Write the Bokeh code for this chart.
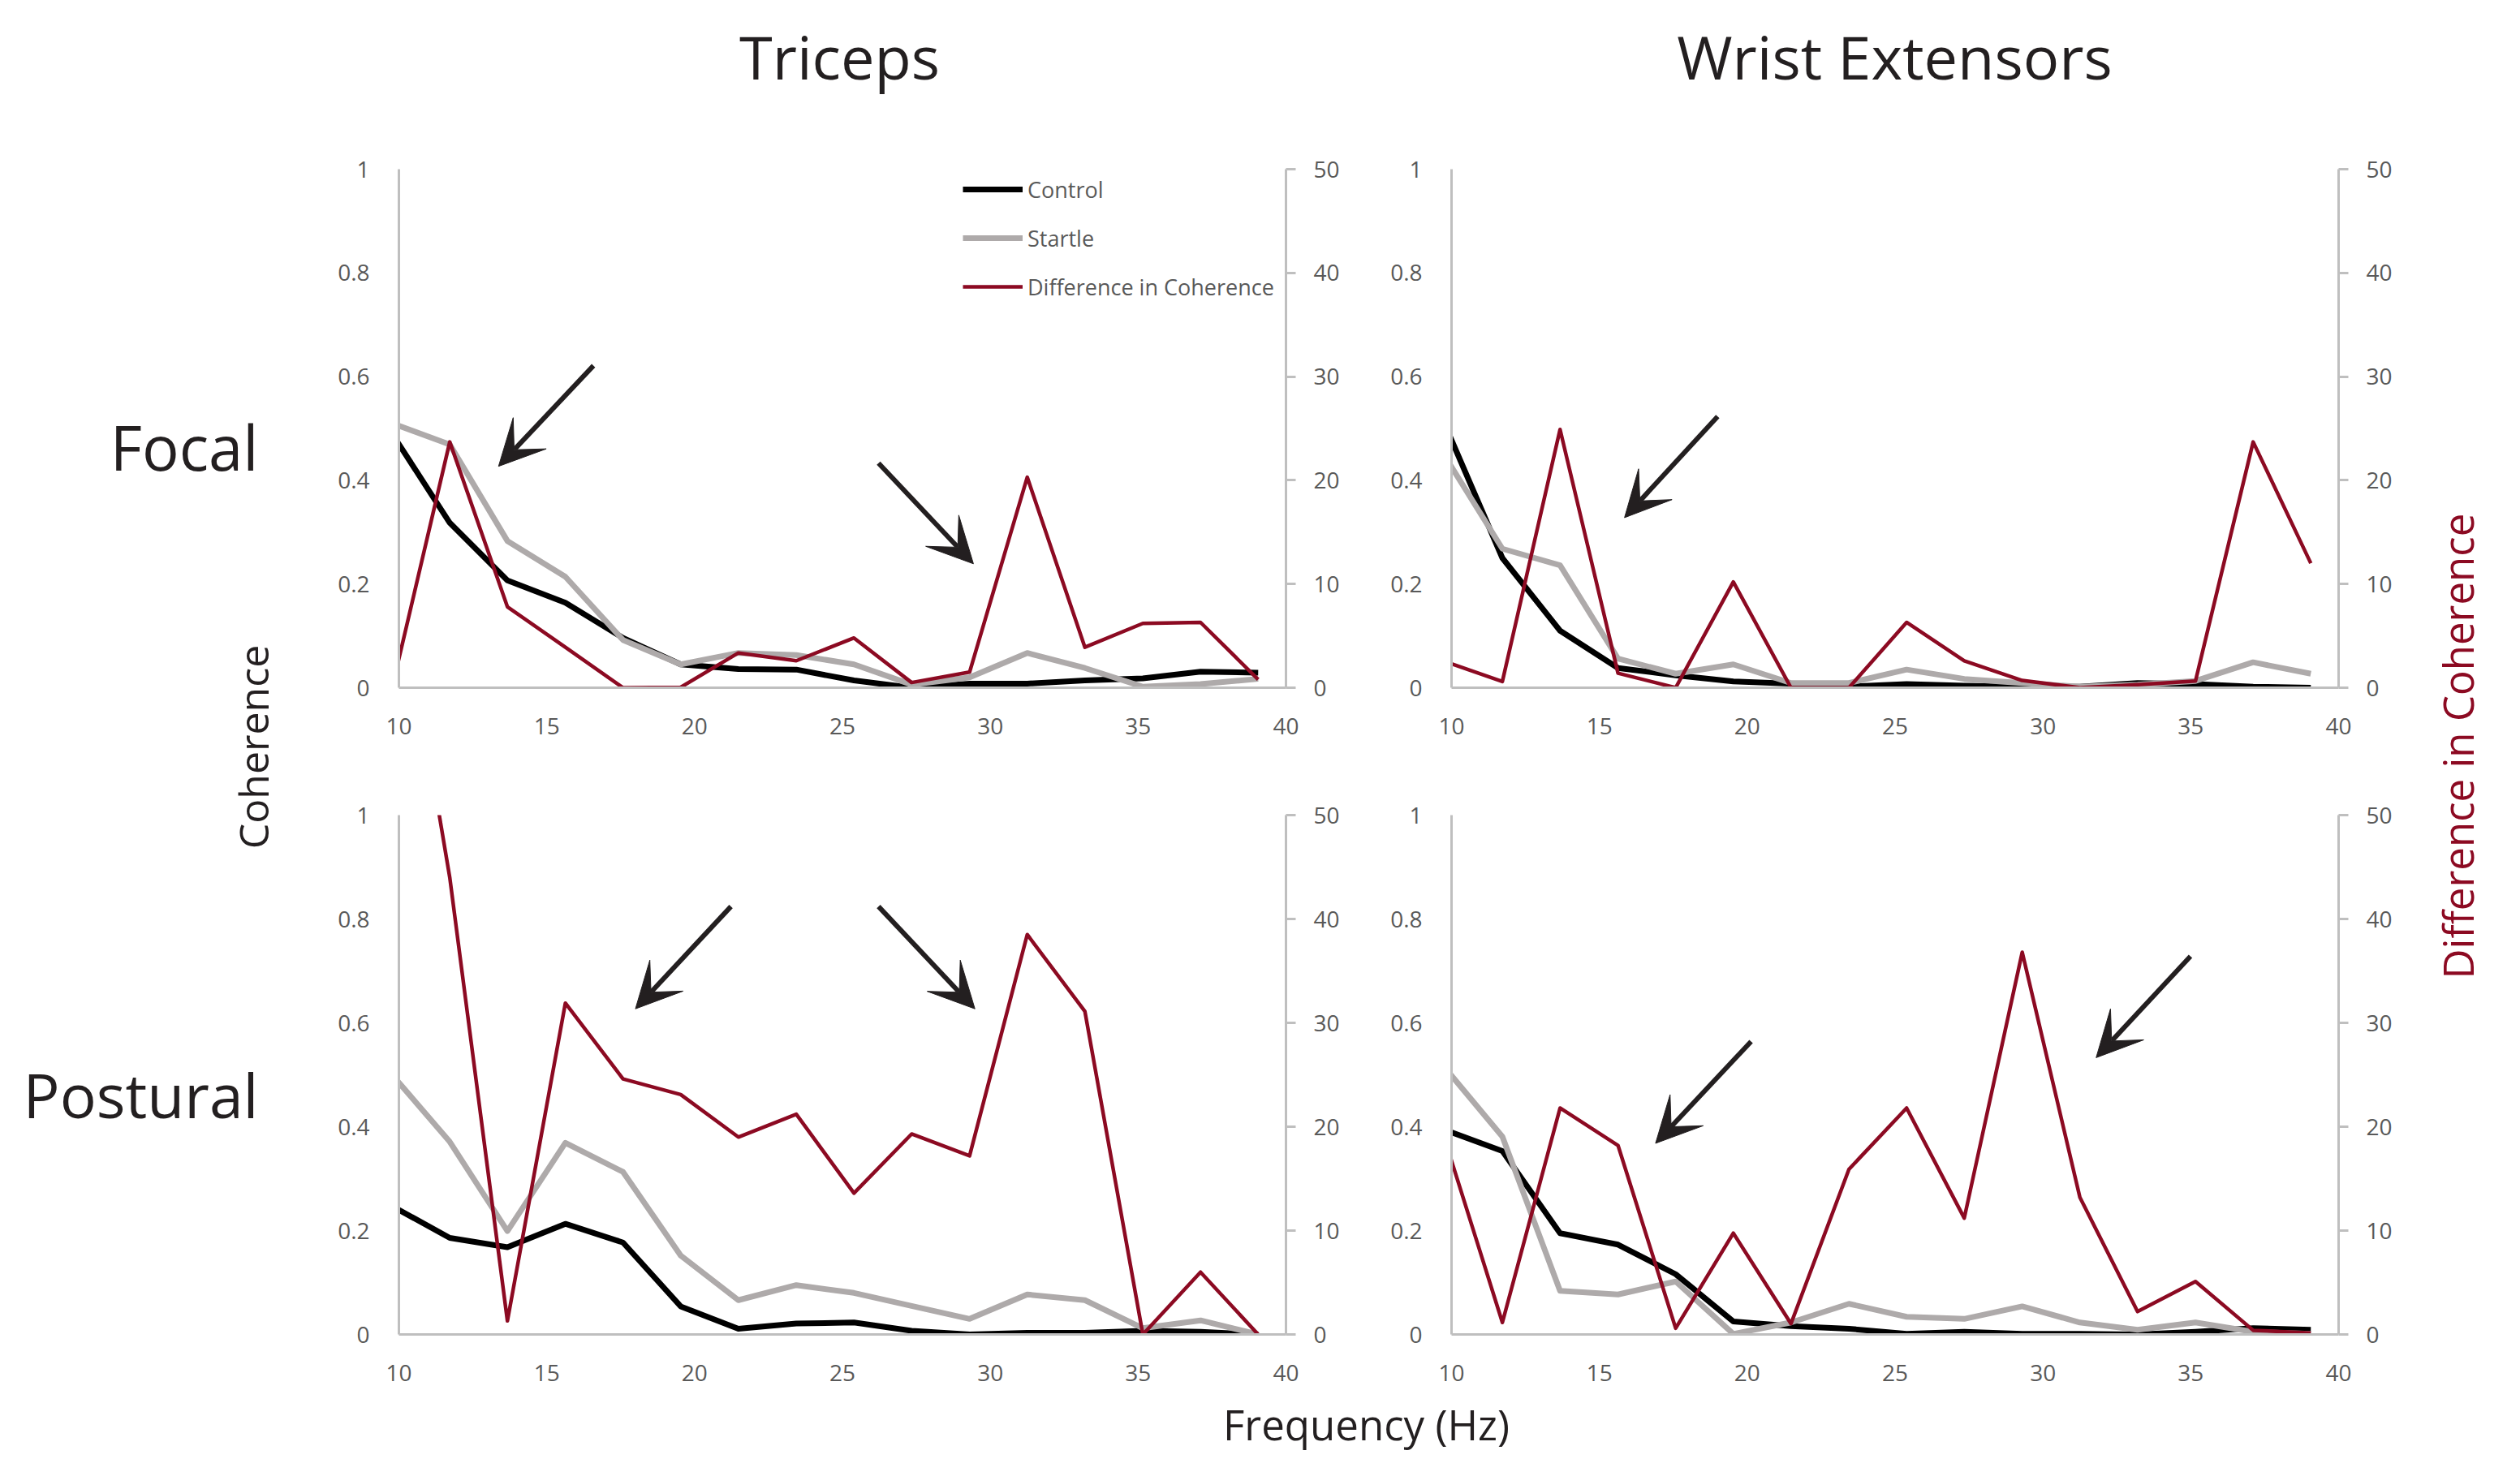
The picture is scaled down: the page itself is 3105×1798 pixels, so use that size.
import math
from bokeh.plotting import figure
from bokeh.models import (Range1d, LinearAxis, Arrow, VeeHead, Legend, LegendItem,
                          FixedTicker, Label)
from bokeh.layouts import row, column
from bokeh.embed import file_html
from bokeh.resources import INLINE

# ---------------- data ----------------
freqs = [9.77, 11.72, 13.67, 15.63, 17.58, 19.53, 21.48, 23.44,
         25.39, 27.34, 29.30, 31.25, 33.20, 35.16, 37.11, 39.06]

col_titles = ["Triceps", "Wrist Extensors"]
row_titles = ["Focal", "Postural"]
series_names = ["Control", "Startle", "Difference in Coherence"]

# Triceps – Focal
tri_focal_control = [0.49, 0.318, 0.207, 0.164, 0.096, 0.045, 0.036, 0.035,
                     0.014, 0.0, 0.008, 0.008, 0.014, 0.018, 0.031, 0.029]
tri_focal_startle = [0.51, 0.469, 0.283, 0.214, 0.092, 0.045, 0.067, 0.063,
                     0.045, 0.006, 0.02, 0.067, 0.038, 0.002, 0.007, 0.017]
tri_focal_diff = [0.0, 23.7, 7.8, 3.9, 0.0, 0.04, 3.35, 2.6,
                  4.8, 0.5, 1.5, 20.3, 3.9, 6.2, 6.3, 0.8]

# Wrist Extensors – Focal
wri_focal_control = [0.508, 0.25, 0.11, 0.038, 0.024, 0.012, 0.008, 0.002,
                     0.007, 0.004, 0.002, 0.002, 0.009, 0.007, 0.002, 0.0]
wri_focal_startle = [0.447, 0.268, 0.236, 0.056, 0.027, 0.045, 0.009, 0.009,
                     0.035, 0.017, 0.009, 0.002, 0.006, 0.013, 0.049, 0.027]
wri_focal_diff = [2.53, 0.6, 24.9, 1.4, 0.0, 10.2, 0.0, 0.0,
                  6.3, 2.6, 0.7, 0.0, 0.3, 0.65, 23.7, 12.0]

# Triceps – Postural
tri_post_control = [0.247, 0.186, 0.168, 0.213, 0.177, 0.054, 0.011, 0.021,
                    0.023, 0.007, 0.0, 0.003, 0.003, 0.007, 0.005, 0.0]
tri_post_startle = [0.50, 0.371, 0.199, 0.369, 0.313, 0.152, 0.066, 0.095,
                    0.080, 0.055, 0.030, 0.077, 0.066, 0.012, 0.027, 0.0]
tri_post_diff = [77.0, 44.0, 1.3, 31.9, 24.6, 23.1, 19.0, 21.2,
                 13.6, 19.3, 17.2, 38.5, 31.1, 0.0, 6.0, 0.0]

# Wrist Extensors – Postural
wri_post_control = [0.394, 0.353, 0.195, 0.173, 0.116, 0.025, 0.016, 0.011,
                    0.001, 0.005, 0.001, 0.001, 0.0, 0.005, 0.012, 0.009]
wri_post_startle = [0.514, 0.381, 0.084, 0.077, 0.102, 0.001, 0.023, 0.059,
                    0.034, 0.030, 0.054, 0.023, 0.009, 0.023, 0.005, 0.001]
wri_post_diff = [18.8, 1.15, 21.8, 18.2, 0.6, 9.75, 1.04, 15.9,
                 21.8, 11.2, 36.8, 13.2, 2.2, 5.1, 0.4, 0.14]

# annotation arrows (x_start, y_start, x_end, y_end) in Hz / coherence
tri_focal_arrows = [(16.58, 0.621, 13.37, 0.427), (26.22, 0.433, 29.43, 0.239)]
wri_focal_arrows = [(19.0, 0.523, 15.85, 0.328)]
tri_post_arrows = [(21.23, 0.824, 18.0, 0.627), (26.22, 0.824, 29.48, 0.627)]
wri_post_arrows = [(20.13, 0.564, 16.9, 0.368), (34.99, 0.728, 31.8, 0.533)]

coh_ticks = [0, 0.2, 0.4, 0.6, 0.8, 1]
coh_tick_labels = ["0", "0.2", "0.4", "0.6", "0.8", "1"]
diff_ticks = [0, 10, 20, 30, 40, 50]
freq_ticks = [10, 15, 20, 25, 30, 35, 40]

# ---------------- style ----------------
FONT = "Open Sans"
C_CTRL = "#000000"
C_START = "#AEAAAA"
C_DIFF = "#8C0A22"
C_AXIS = "#BFBFBF"
C_TICK = "#595959"
C_TEXT = "#231F20"


def style_fig(p):
    p.grid.visible = False
    p.outline_line_color = None
    p.background_fill_color = "white"
    p.border_fill_color = "white"


def panel(ctrl, startle, diff, arrows, width, height, mbl, mbr, mbt, mbb, legend=False):
    p = figure(width=width, height=height, x_range=Range1d(10, 40), y_range=Range1d(0, 1),
               output_backend="svg", toolbar_location=None,
               min_border_left=mbl, min_border_right=mbr,
               min_border_top=mbt, min_border_bottom=mbb)
    style_fig(p)
    p.extra_y_ranges = {"diff": Range1d(0, 50)}
    raxis = LinearAxis(y_range_name="diff")
    p.add_layout(raxis, "right")

    xa = p.xaxis[0]
    xa.ticker = FixedTicker(ticks=freq_ticks)
    xa.axis_line_color = C_AXIS
    xa.axis_line_width = 3
    xa.major_tick_line_color = None
    xa.minor_tick_line_color = None
    xa.major_label_text_font = FONT
    xa.major_label_text_font_size = "28px"
    xa.major_label_text_color = C_TICK
    xa.major_label_standoff = 31

    ya = p.yaxis[0]
    ya.ticker = FixedTicker(ticks=coh_ticks)
    ya.major_label_overrides = {t: l for t, l in zip(coh_ticks, coh_tick_labels)}
    ya.axis_line_color = C_AXIS
    ya.axis_line_width = 3
    ya.major_tick_line_color = None
    ya.minor_tick_line_color = None
    ya.major_label_text_font = FONT
    ya.major_label_text_font_size = "28px"
    ya.major_label_text_color = C_TICK
    ya.major_label_standoff = 30

    raxis.ticker = FixedTicker(ticks=diff_ticks)
    raxis.axis_line_color = C_AXIS
    raxis.axis_line_width = 3
    raxis.major_tick_line_color = C_AXIS
    raxis.major_tick_line_width = 3
    raxis.major_tick_out = 12
    raxis.major_tick_in = 0
    raxis.minor_tick_line_color = None
    raxis.major_label_text_font = FONT
    raxis.major_label_text_font_size = "28px"
    raxis.major_label_text_color = C_TICK
    raxis.major_label_standoff = 22

    r1 = p.line(freqs, ctrl, line_color=C_CTRL, line_width=7, line_join="round")
    r2 = p.line(freqs, startle, line_color=C_START, line_width=7, line_join="round")
    r3 = p.line(freqs, diff, line_color=C_DIFF, line_width=4.5, line_join="round",
                y_range_name="diff")

    for (xs, ys, xe, ye) in arrows:
        p.add_layout(Arrow(end=VeeHead(size=56, fill_color=C_TEXT, line_color=C_TEXT),
                           x_start=xs, y_start=ys, x_end=xe, y_end=ye,
                           line_color=C_TEXT, line_width=6))

    if legend:
        lg = Legend(items=[LegendItem(label=series_names[0], renderers=[r1]),
                           LegendItem(label=series_names[1], renderers=[r2]),
                           LegendItem(label=series_names[2], renderers=[r3])],
                    location=(695, 474), orientation="vertical",
                    glyph_width=74, glyph_height=40, label_height=40,
                    spacing=20, padding=0, margin=0, label_standoff=6,
                    border_line_color=None, background_fill_alpha=0,
                    label_text_font=FONT, label_text_font_size="27px",
                    label_text_color=C_TICK)
        p.add_layout(lg)
    return p


def text_fig(width, height):
    p = figure(width=width, height=height, x_range=Range1d(0, width), y_range=Range1d(0, height),
               output_backend="svg", toolbar_location=None, x_axis_type=None, y_axis_type=None,
               min_border=0)
    style_fig(p)
    return p


def add_text(p, x, y, text, size, color=C_TEXT, align="center", angle=0.0):
    p.add_layout(Label(x=x, y=y, text=text, text_align=align, text_baseline="middle",
                       angle=angle, text_font=FONT, text_font_size=size, text_color=color))


# panels (frames: x 491-1584 / 1788-2881, y 208-847 / 1004-1644)
p_tl = panel(tri_focal_control, tri_focal_startle, tri_focal_diff, tri_focal_arrows,
             1286, 800, 91, 102, 68, 93, legend=True)
p_tr = panel(wri_focal_control, wri_focal_startle, wri_focal_diff, wri_focal_arrows,
             1284, 800, 102, 89, 68, 93)
p_bl = panel(tri_post_control, tri_post_startle, tri_post_diff, tri_post_arrows,
             1286, 778, 91, 102, 64, 74)
p_br = panel(wri_post_control, wri_post_startle, wri_post_diff, wri_post_arrows,
             1284, 778, 102, 89, 64, 74)

# column titles
p_top = text_fig(2570, 140)
add_text(p_top, 634, 71, col_titles[0], "74px")
add_text(p_top, 1934, 71, col_titles[1], "74px")

# x axis title
p_bot = text_fig(2570, 80)
add_text(p_bot, 1283, 44, "Frequency (Hz)", "51px")

# row titles + left axis title
p_left = text_fig(400, 1798)
add_text(p_left, 318, 1248, row_titles[0], "76px", align="right")
add_text(p_left, 318, 450, row_titles[1], "75px", align="right")
add_text(p_left, 311, 878, "Coherence", "50px", angle=math.pi / 2)

# right axis title
p_right = text_fig(135, 1798)
add_text(p_right, 57, 879, "Difference in Coherence", "51px", color=C_DIFF, angle=math.pi / 2)

middle = column(p_top, row(p_tl, p_tr), row(p_bl, p_br), p_bot)
layout = row(p_left, middle, p_right)

open("out.html", "w").write(file_html(layout, INLINE))
